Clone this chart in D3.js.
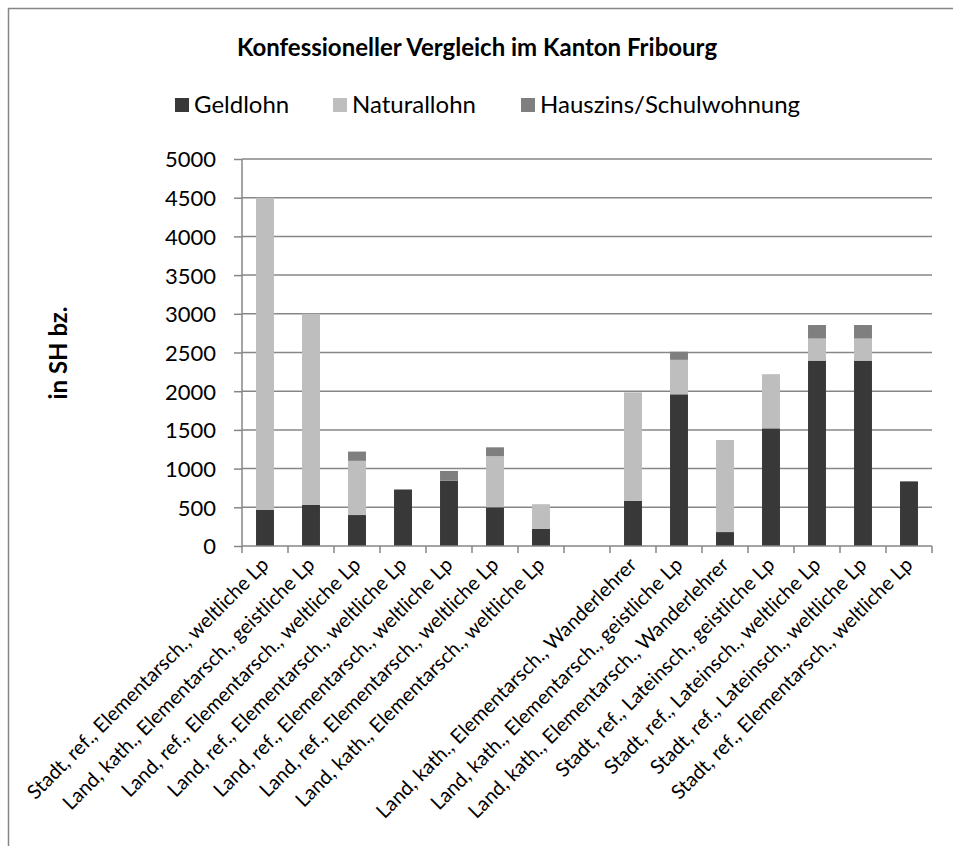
<!DOCTYPE html>
<html>
<head>
<meta charset="utf-8">
<script src="https://cdn.jsdelivr.net/npm/d3@7"></script>
<style>
  body { margin: 0; background: #fff; }
  svg text { font-family: Lato, "Open Sans", sans-serif; fill: #000; }
</style>
</head>
<body>
<svg id="chart" width="953" height="846"></svg>
<script>
// categories (slot 8 is the empty gap in the original)
var categories = [
  "Stadt, ref., Elementarsch., weltliche Lp",
  "Land, kath., Elementarsch., geistliche Lp",
  "Land, ref., Elementarsch., weltliche Lp",
  "Land, ref., Elementarsch., weltliche Lp",
  "Land, ref., Elementarsch., weltliche Lp",
  "Land, ref., Elementarsch., weltliche Lp",
  "Land, kath., Elementarsch., weltliche Lp",
  "",
  "Land, kath., Elementarsch., Wanderlehrer",
  "Land, kath., Elementarsch., geistliche Lp",
  "Land, kath., Elementarsch., Wanderlehrer",
  "Stadt, ref., Lateinsch., geistliche Lp",
  "Stadt, ref., Lateinsch., weltliche Lp",
  "Stadt, ref., Lateinsch., weltliche Lp",
  "Stadt, ref., Elementarsch., weltliche Lp"
]
var geldlohn    = [465, 530, 400, 730, 845, 500, 220, 0, 585, 1960, 180, 1520, 2395, 2395, 835]
var naturallohn = [4035, 2470, 700, 0, 0, 660, 320, 0, 1400, 445, 1190, 700, 285, 285, 0]
var hauszins    = [0, 0, 120, 0, 125, 115, 0, 0, 0, 105, 0, 0, 175, 175, 0]
var seriesNames = ["Geldlohn", "Naturallohn", "Hauszins/Schulwohnung"]
var yTicks = [0, 500, 1000, 1500, 2000, 2500, 3000, 3500, 4000, 4500, 5000]

var colors = ["#383838", "#bebebe", "#7f7f7f"]

var table = categories.map((c, i) => ({
  idx: i,
  Geldlohn: geldlohn[i],
  Naturallohn: naturallohn[i],
  "Hauszins/Schulwohnung": hauszins[i]
}))

var svg = d3.select("#chart")

// outer frame (only top and left edge visible)
svg.append("path")
  .attr("d", "M8.5,846 V8.5 H953")
  .attr("fill", "none")
  .attr("stroke", "#868686")
  .attr("stroke-width", 1.5)

var plotL = 242, plotR = 932, plotT = 159, plotB = 546

var x = d3.scaleBand()
  .domain(categories.map((c, i) => i))
  .range([plotL, plotR])
  .paddingInner(0.61)
  .paddingOuter(0.305)

var y = d3.scaleLinear()
  .domain([0, 5000])
  .range([plotB, plotT])

// gridlines
svg.append("g")
  .selectAll("line")
  .data(yTicks.slice(1))
  .enter().append("line")
  .attr("x1", plotL).attr("x2", plotR)
  .attr("y1", d => y(d)).attr("y2", d => y(d))
  .attr("stroke", "#868686")
  .attr("stroke-width", 1.5)

// stacked bars
var stacked = d3.stack().keys(seriesNames)(table)
svg.append("g")
  .selectAll("g")
  .data(stacked)
  .enter().append("g")
  .attr("fill", (d, i) => colors[i])
  .selectAll("rect")
  .data(d => d.filter(p => p[1] > p[0]))
  .enter().append("rect")
  .attr("x", d => x(d.data.idx))
  .attr("width", x.bandwidth())
  .attr("y", d => y(d[1]))
  .attr("height", d => y(d[0]) - y(d[1]))

// y axis
var yAxis = svg.append("g")
  .attr("transform", `translate(${plotL},0)`)
  .call(d3.axisLeft(y).tickValues(yTicks).tickFormat(d => d).tickSize(8).tickPadding(18))
yAxis.selectAll("line, path").attr("stroke", "#868686").attr("stroke-width", 1.5)
yAxis.select(".domain").attr("d", `M0,${plotT}V${plotB}`)
yAxis.selectAll("text")
  .style("font-size", "22px")
  .attr("fill", "#000")
  .attr("dy", "0.36em")

// x axis: line + ticks at category boundaries
var step = x.step()
var bounds = categories.map((c, i) => x(i) + x.bandwidth() / 2 - step / 2)
bounds.push(plotR)
svg.append("line")
  .attr("x1", plotL).attr("x2", plotR)
  .attr("y1", plotB).attr("y2", plotB)
  .attr("stroke", "#868686").attr("stroke-width", 1.5)
svg.append("g")
  .selectAll("line")
  .data(bounds)
  .enter().append("line")
  .attr("x1", d => d).attr("x2", d => d)
  .attr("y1", plotB).attr("y2", plotB + 7)
  .attr("stroke", "#868686").attr("stroke-width", 1.5)

// rotated category labels
svg.append("g")
  .selectAll("text")
  .data(categories)
  .enter().append("text")
  .text(d => d)
  .attr("text-anchor", "end")
  .attr("transform", (d, i) => `translate(${x(i) + x.bandwidth() / 2 + 5},${plotB + 20}) rotate(-45)`)
  .style("font-size", "20px")

// title
svg.append("text")
  .text("Konfessioneller Vergleich im Kanton Fribourg")
  .attr("x", 477).attr("y", 56)
  .attr("text-anchor", "middle")
  .style("font-size", "24px")
  .style("font-weight", "bold")

// y axis title
svg.append("text")
  .text("in SH bz.")
  .attr("transform", "translate(67,353) rotate(-90)")
  .attr("text-anchor", "middle")
  .style("font-size", "24px")
  .style("font-weight", "bold")

// legend
var legendX = [175, 333, 521]
var legend = svg.append("g")
  .selectAll("g")
  .data(seriesNames)
  .enter().append("g")
  .attr("transform", (d, i) => `translate(${legendX[i]},98)`)
legend.append("rect")
  .attr("width", 14).attr("height", 14)
  .attr("fill", (d, i) => colors[i])
legend.append("text")
  .text(d => d)
  .attr("x", 19).attr("y", 15)
  .style("font-size", "24px")
</script>
</body>
</html>
